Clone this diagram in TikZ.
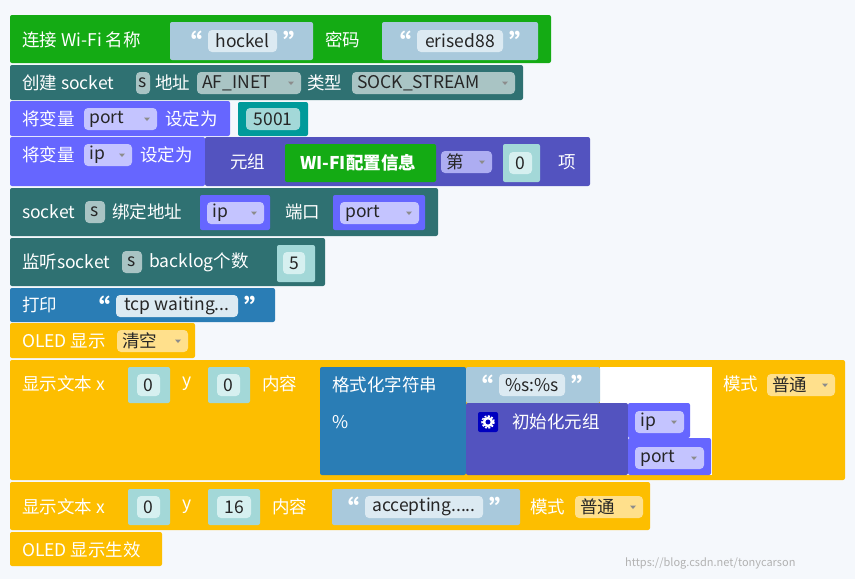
\documentclass[tikz,border=0pt]{standalone}
\usepackage{fontspec}
\setmainfont{Noto Sans CJK SC}
\begin{document}
\definecolor{bg}{HTML}{F5F8FC}
\definecolor{gr}{HTML}{14AB14}
\definecolor{tl}{HTML}{2F7172}
\definecolor{tlf}{HTML}{A9C4C4}
\definecolor{pv}{HTML}{6666FF}
\definecolor{pvf}{HTML}{C4C4FF}
\definecolor{tp}{HTML}{5353BF}
\definecolor{sb}{HTML}{A9C9DC}
\definecolor{sbf}{HTML}{DCEAF2}
\definecolor{nm}{HTML}{009A9A}
\definecolor{nmy}{HTML}{A3D8D8}
\definecolor{nmf}{HTML}{D6F0F0}
\definecolor{bl}{HTML}{2A7DB5}
\definecolor{yl}{HTML}{FDBE00}
\definecolor{ylf}{HTML}{FFE08C}
\begin{tikzpicture}[x=1pt,y=-1pt,
  tx/.style={anchor=west,inner sep=0,text=white,font=\fontsize{17.5}{19}\selectfont},
  dk/.style={anchor=center,inner sep=0,text=black!85,font=\fontsize{17.5}{19}\selectfont},
  qs/.style={anchor=center,inner sep=0,text=white,font=\fontsize{26}{26}\bfseries\selectfont}]
\newcommand\bx[5]{\fill[#5,rounded corners=2pt] (#1,#2) rectangle (#3,#4);}
\newcommand\fl[6]{\fill[#5,rounded corners=4pt] (#1,#4-11) rectangle (#2,#4+11);
  \node[dk] (#6) at ({(#1+#2)/2},#4) {#3};}
\newcommand\dd[6]{\fill[#5,rounded corners=4pt] (#1,#4-11) rectangle (#2,#4+11);
  \node[dk,anchor=west] (#6) at (#1+5,#4) {#3};
  \fill[black!45] (#2-13,#4-1.5) -- (#2-7,#4-1.5) -- (#2-10,#4+2) -- cycle;}
\newcommand\qt[2]{\node[qs] at (#1-19,#2+2) {“};}
\newcommand\qe[2]{\node[qs] at (#1+19,#2+2) {”};}
\useasboundingbox (0,0) rectangle (855,579);
\fill[bg] (0,0) rectangle (855,579);
% 1
\bx{10}{15}{551}{63}{gr}
\node[tx] (t1) at (22,40) {连接 Wi-Fi 名称};
\bx{170}{22}{313}{60}{sb}\qt{208}{40}\fl{208}{277}{hockel}{41}{sbf}{f1}\qe{277}{40}
\node[tx] (t1b) at (325,40) {密码};
\bx{382}{22}{538}{60}{sb}\qt{417}{40}\fl{417}{503}{erised88}{41}{sbf}{f2}\qe{503}{40}
% 2
\bx{10}{65}{523}{100}{tl}
\node[tx] (t2) at (22,83) {创建 socket};
\fl{136}{150}{s}{83}{tlf}{f3}
\node[tx] at (155,83) {地址};
\dd{197}{301}{AF\_INET}{83}{tlf}{f4}
\node[tx] at (307,83) {类型};
\dd{352}{515}{SOCK\_STREAM}{83}{tlf}{f5}
% 3
\bx{10}{101}{230}{136}{pv}
\node[tx] (t3) at (22,119) {将变量};
\dd{84}{157}{port}{119}{pvf}{f6}
\node[tx] at (165,119) {设定为};
\bx{238}{102}{308}{136}{nm}\fl{246}{300}{5001}{119}{nmy}{f7}
% 4
\bx{10}{137}{205}{186}{pv}
\node[tx] (t4) at (22,155) {将变量};
\dd{84}{132}{ip}{155}{pvf}{f8}
\node[tx] at (140,155) {设定为};
\bx{205}{137}{590}{186}{tp}
\node[tx] at (230,162) {元组};
\bx{285}{144}{436}{182}{gr}
\node[tx,font=\fontsize{17.5}{19}\bfseries\selectfont] at (300,163) {WI-FI配置信息};
\dd{441}{492}{第}{162}{pvf!80!tp}{f9}
\bx{503}{144}{540}{182}{nmy}\fl{509}{532}{0}{163}{nmf}{f10}
\node[tx] at (558,162) {项};
% 5
\bx{10}{188}{438}{236}{tl}
\node[tx] at (22,212) {socket};
\fl{85}{105}{s}{212}{tlf}{f11}
\node[tx] at (112,212) {绑定地址};
\bx{200}{195}{270}{230}{pv}\dd{207}{264}{ip}{213}{pvf}{f12}
\node[tx] at (285,212) {端口};
\bx{333}{195}{425}{230}{pv}\dd{340}{419}{port}{213}{pvf}{f13}
% 6
\bx{10}{238}{325}{286}{tl}
\node[tx] at (22,262) {监听socket};
\fl{122}{142}{s}{262}{tlf}{f14}
\node[tx] at (149,262) {backlog个数};
\bx{277}{245}{315}{282}{nmy}\fl{283}{305}{5}{263}{nmf}{f15}
% 7
\bx{10}{288}{275}{322}{bl}
\node[tx] at (22,305) {打印};
\bx{85}{289}{267}{321}{bl}
\qt{116}{305}\fl{116}{238}{tcp waiting...}{306}{sbf}{f16}\qe{238}{305}
% 8
\bx{10}{323}{195}{358}{yl}
\node[tx] at (22,341) {OLED 显示};
\dd{117}{188}{清空}{341}{ylf}{f17}
% 9
\bx{10}{360}{845}{480}{yl}
\node[tx] at (22,384) {显示文本 x};
\bx{128}{367}{170}{403}{nmy}\fl{137}{160}{0}{385}{nmf}{f18}
\node[tx] at (182,384) {y};
\bx{208}{367}{250}{403}{nmy}\fl{217}{240}{0}{385}{nmf}{f19}
\node[tx] at (262,384) {内容};
\fill[white] (600,367) rectangle (712,475);
\bx{320}{367}{466}{475}{bl}
\node[tx] at (332,385) {格式化字符串};
\node[tx] at (332,422) {\%};
\bx{466}{367}{600}{403}{sb}
\qt{499}{384}\fl{499}{565}{\%s:\%s}{385}{sbf}{f20}\qe{565}{384}
\bx{466}{403}{628}{475}{tp}
\fill[blue!75!black,rounded corners=2pt] (478,412) rectangle (498,432);
\draw[white,line width=2.5pt] (488,422) circle (4);
\draw[white,line width=1.5pt,dash pattern=on 2pt off 1.5pt] (488,422) circle (6);
\node[tx] at (512,422) {初始化元组};
\bx{628}{403}{690}{438}{pv}\dd{635}{684}{ip}{422}{pvf}{f21}
\bx{628}{438}{711}{475}{pv}\dd{635}{704}{port}{458}{pvf}{f22}
\node[tx] at (723,384) {模式};
\dd{767}{835}{普通}{385}{ylf}{f23}
% 10
\bx{10}{482}{650}{530}{yl}
\node[tx] at (22,507) {显示文本 x};
\bx{128}{489}{170}{525}{nmy}\fl{137}{160}{0}{507}{nmf}{f24}
\node[tx] at (182,507) {y};
\bx{208}{489}{260}{525}{nmy}\fl{217}{251}{16}{507}{nmf}{f25}
\node[tx] at (272,507) {内容};
\bx{332}{489}{520}{525}{sb}
\qt{365}{506}\fl{365}{483}{accepting.....}{507}{sbf}{f26}\qe{483}{506}
\node[tx] at (530,507) {模式};
\dd{575}{643}{普通}{507}{ylf}{f27}
% 11
\bx{10}{532}{162}{566}{yl}
\node[tx] at (22,550) {OLED 显示生效};
\node[anchor=west,inner sep=0,text=black!30,font=\fontsize{11}{12}\selectfont] at (625,563) {https://blog.csdn.net/tonycarson};
\end{tikzpicture}
\end{document}
